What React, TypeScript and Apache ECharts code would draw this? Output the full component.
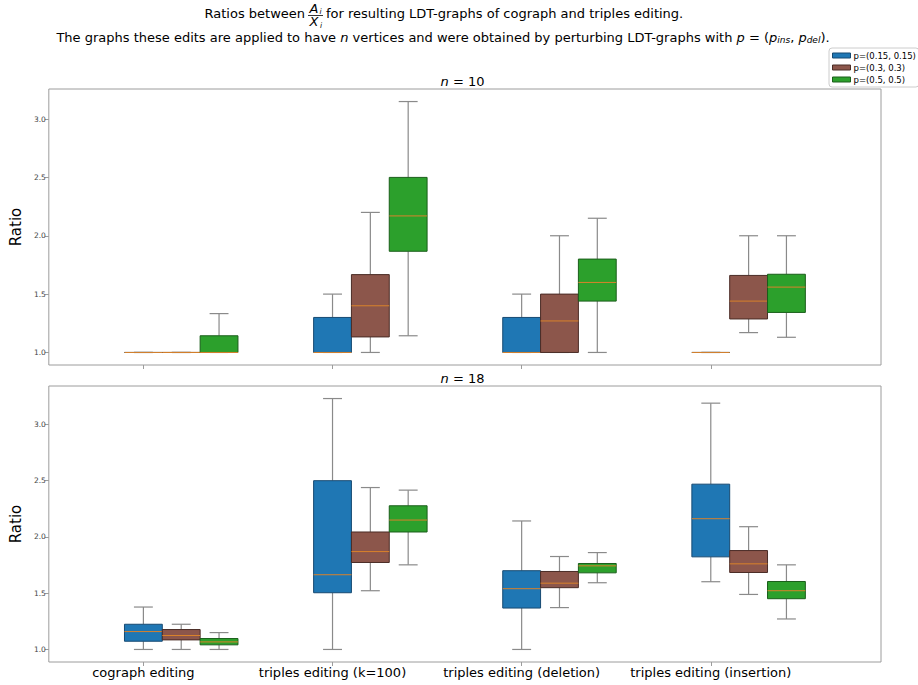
import React, { useEffect, useRef } from "react";
import * as echarts from "echarts";

// ---------- data ----------
const categories = [
  "cograph editing",
  "triples editing (k=100)",
  "triples editing (deletion)",
  "triples editing (insertion)",
];
const seriesNames = ["p=(0.15, 0.15)", "p=(0.3, 0.3)", "p=(0.5, 0.5)"];
const yTicks = [1.0, 1.5, 2.0, 2.5, 3.0];

// each item: [lower whisker, Q1, median, Q3, upper whisker], one per category
const n10_p015 = [
  [1, 1, 1, 1, 1],
  [1, 1, 1, 1.3, 1.5],
  [1, 1, 1, 1.3, 1.5],
  [1, 1, 1, 1, 1],
];
const n10_p03 = [
  [1, 1, 1, 1, 1],
  [1, 1.133, 1.4, 1.667, 2.2],
  [1, 1, 1.27, 1.5, 2.0],
  [1.17, 1.287, 1.44, 1.66, 2.0],
];
const n10_p05 = [
  [1, 1, 1, 1.143, 1.333],
  [1.143, 1.867, 2.17, 2.5, 3.15],
  [1, 1.44, 1.6, 1.8, 2.15],
  [1.13, 1.343, 1.56, 1.67, 2.0],
];
const n18_p015 = [
  [1, 1.073, 1.159, 1.224, 1.377],
  [1, 1.504, 1.664, 2.5, 3.23],
  [1, 1.368, 1.54, 1.7, 2.142],
  [1.602, 1.823, 2.162, 2.469, 3.189],
];
const n18_p03 = [
  [1, 1.085, 1.124, 1.177, 1.224],
  [1.522, 1.773, 1.87, 2.044, 2.439],
  [1.372, 1.549, 1.589, 1.693, 1.826],
  [1.489, 1.684, 1.761, 1.879, 2.091],
];
const n18_p05 = [
  [1, 1.041, 1.067, 1.097, 1.15],
  [1.752, 2.044, 2.15, 2.277, 2.416],
  [1.593, 1.681, 1.743, 1.764, 1.861],
  [1.271, 1.451, 1.522, 1.604, 1.752],
];

const panels = [
  { label: "10", series: [n10_p015, n10_p03, n10_p05] },
  { label: "18", series: [n18_p015, n18_p03, n18_p05] },
];

// ---------- style ----------
const FONT = "DejaVu Sans";
const fills = ["#1f77b4", "#8c564b", "#2ca02c"];
const edges = ["#174a72", "#4a2c26", "#1a5e1a"];
const WHISKER = "#8a8a8a";
const MEDIAN = "#d9822b";
const SPINE = "#9c9c9c";
const BOX_W = 0.2;
const OFFSETS = [0, 0.2, 0.4];

const GRID_LEFT = 44;
const GRID_RIGHT = 37;
const GRID_H = 276;
const GRID_TOPS = [89, 386];

function makeRender(fill: string, edge: string) {
  return (params: any, api: any) => {
    const x = api.value(0);
    const lo = api.value(1);
    const q1 = api.value(2);
    const med = api.value(3);
    const q3 = api.value(4);
    const hi = api.value(5);
    const w = api.size([BOX_W, 0])[0];
    const c = (v: number) => api.coord([x, v]);
    const pLo = c(lo), pQ1 = c(q1), pMed = c(med), pQ3 = c(q3), pHi = c(hi);
    const cx = pLo[0];
    const half = w / 2;
    const cap = w / 4;
    const ws = { stroke: WHISKER, lineWidth: 1.2 };
    return {
      type: "group",
      children: [
        { type: "line", shape: { x1: cx, y1: pQ1[1], x2: cx, y2: pLo[1] }, style: ws },
        { type: "line", shape: { x1: cx - cap, y1: pLo[1], x2: cx + cap, y2: pLo[1] }, style: ws },
        { type: "line", shape: { x1: cx, y1: pQ3[1], x2: cx, y2: pHi[1] }, style: ws },
        { type: "line", shape: { x1: cx - cap, y1: pHi[1], x2: cx + cap, y2: pHi[1] }, style: ws },
        {
          type: "rect",
          shape: { x: cx - half, y: pQ3[1], width: w, height: pQ1[1] - pQ3[1] },
          style: { fill, stroke: edge, lineWidth: 1 },
        },
        {
          type: "line",
          shape: { x1: cx - half, y1: pMed[1], x2: cx + half, y2: pMed[1] },
          style: { stroke: MEDIAN, lineWidth: 1 },
        },
      ],
    };
  };
}

function extentOf(arrs: number[][][]) {
  let mn = Infinity, mx = -Infinity;
  arrs.forEach((s) => s.forEach((it) => it.forEach((v) => { mn = Math.min(mn, v); mx = Math.max(mx, v); })));
  const pad = (mx - mn) * 0.05;
  return [mn - pad, mx + pad];
}

function buildOption() {
  const grid: any[] = [];
  const xAxis: any[] = [];
  const yAxis: any[] = [];
  const series: any[] = [];
  panels.forEach((p, pi) => {
    grid.push({
      left: GRID_LEFT,
      right: GRID_RIGHT,
      top: GRID_TOPS[pi],
      height: GRID_H,
      show: true,
      borderColor: SPINE,
      borderWidth: 1,
      backgroundColor: "transparent",
    });
    xAxis.push({
      type: "value",
      gridIndex: pi,
      min: -0.5,
      max: 3.9,
      position: "bottom",
      splitLine: { show: false },
      axisLine: { show: false, onZero: false },
      axisTick: { show: true, customValues: [0, 1, 2, 3], length: 4, lineStyle: { color: SPINE } },
      axisLabel: {
        show: pi === 1,
        customValues: [0, 1, 2, 3],
        formatter: (v: number) => categories[Math.round(v)] ?? "",
        fontFamily: FONT,
        fontSize: 13,
        color: "#000",
        margin: 4,
      },
    });
    const [ymin, ymax] = extentOf(p.series);
    yAxis.push({
      type: "value",
      gridIndex: pi,
      min: ymin,
      max: ymax,
      position: "left",
      name: "Ratio",
      nameLocation: "middle",
      nameGap: 24,
      nameTextStyle: { fontFamily: FONT, fontSize: 15, color: "#000" },
      splitLine: { show: false },
      axisLine: { show: false, onZero: false },
      axisTick: { show: true, customValues: yTicks, length: 4, lineStyle: { color: SPINE } },
      axisLabel: {
        customValues: yTicks,
        formatter: (v: number) => v.toFixed(1),
        fontFamily: FONT,
        fontSize: 7.5,
        color: "#444",
        margin: 3,
      },
    });
    p.series.forEach((s, si) => {
      series.push({
        type: "custom",
        name: seriesNames[si],
        xAxisIndex: pi,
        yAxisIndex: pi,
        itemStyle: { color: fills[si] },
        encode: { x: 0, y: [1, 2, 3, 4, 5] },
        renderItem: makeRender(fills[si], edges[si]),
        data: s.map((it, ci) => [ci + OFFSETS[si], ...it]),
      });
    });
  });

  const titleFont = 13;
  const txt = (x: number, y: number, text: string, extra: any = {}) => ({
    type: "text",
    x,
    y,
    style: { text, fontFamily: FONT, fontSize: titleFont, fill: "#000", verticalAlign: "middle", ...extra },
  });
  const graphic: any[] = [
    txt(305, 13, "Ratios between", { align: "right" }),
    txt(314, 8, "A", { align: "center", fontStyle: "italic" }),
    txt(319.5, 11, "i", { align: "left", fontStyle: "italic", fontSize: 7.5 }),
    { type: "line", shape: { x1: 308, y1: 15.5, x2: 323, y2: 15.5 }, style: { stroke: "#000", lineWidth: 0.8 } },
    txt(314, 21.5, "X", { align: "center", fontStyle: "italic" }),
    txt(320, 25, "i", { align: "left", fontStyle: "italic", fontSize: 7.5 }),
    txt(326, 13, "for resulting LDT-graphs of cograph and triples editing.", { align: "left" }),
    {
      type: "text",
      x: 443,
      y: 37.5,
      style: {
        text:
          "{r|The graphs these edits are applied to have }{i|n}{r| vertices and were obtained by perturbing LDT-graphs with }{i|p}{r| = (}{i|p}{s|ins}{r|, }{i|p}{s|del}{r|).}",
        rich: {
          r: { fontFamily: FONT, fontSize: titleFont, fill: "#000" },
          i: { fontFamily: FONT, fontSize: titleFont, fontStyle: "italic", fill: "#000" },
          s: { fontFamily: FONT, fontSize: 9, fontStyle: "italic", fill: "#000", verticalAlign: "bottom", padding: [5, 0, 0, 0] },
        },
        align: "center",
        verticalAlign: "middle",
      },
    },
  ];
  panels.forEach((p, pi) => {
    graphic.push({
      type: "text",
      x: GRID_LEFT + (918 - GRID_LEFT - GRID_RIGHT) / 2,
      y: GRID_TOPS[pi] - 8,
      style: {
        text: `{i|n}{r| = ${p.label}}`,
        rich: {
          i: { fontFamily: FONT, fontSize: 13, fontStyle: "italic", fill: "#000" },
          r: { fontFamily: FONT, fontSize: 13, fill: "#000" },
        },
        align: "center",
        verticalAlign: "middle",
      },
    });
  });

  return {
    animation: false,
    backgroundColor: "#fff",
    grid,
    xAxis,
    yAxis,
    series,
    graphic,
    legend: {
      orient: "vertical",
      left: 829,
      top: 48,
      padding: [3, 3, 3, 3],
      itemGap: 3,
      itemWidth: 18,
      itemHeight: 5,
      borderColor: "#cccccc",
      borderWidth: 1,
      borderRadius: 3,
      backgroundColor: "#fff",
      textStyle: { fontFamily: FONT, fontSize: 8.5, color: "#000", padding: [0, 0, 0, -2] },
      data: seriesNames.map((n, i) => ({
        name: n,
        icon: "rect",
        itemStyle: { color: fills[i], borderColor: edges[i], borderWidth: 1 },
      })),
    },
  };
}

export default function App() {
  const ref = useRef<HTMLDivElement>(null);
  useEffect(() => {
    if (!ref.current) return;
    const chart = echarts.init(ref.current, null, { renderer: "svg" });
    chart.setOption(buildOption() as any);
    return () => chart.dispose();
  }, []);
  return (
    <div
      ref={ref}
      style={{ position: "fixed", left: 0, top: 0, width: 918, height: 685, background: "#fff" }}
    />
  );
}
